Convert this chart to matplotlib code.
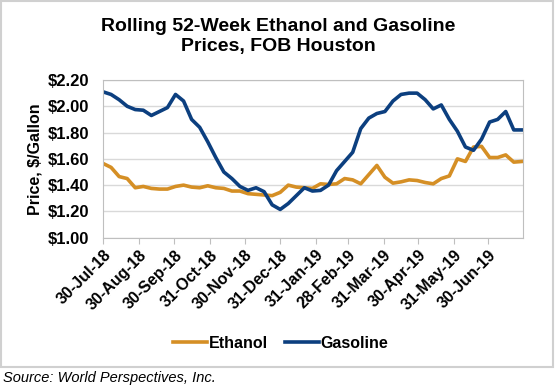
#!/usr/bin/env python3
"""Rolling 52-week ethanol and gasoline prices, FOB Houston."""
import matplotlib
matplotlib.use("Agg")
import matplotlib.pyplot as plt
import matplotlib.dates as mdates
import pandas as pd
from matplotlib.patches import Rectangle

# weekly observations starting 30-Jul-18
start_date = "2018-07-30"
n_weeks = 53
ethanol = [1.565, 1.535, 1.465, 1.45, 1.38, 1.39, 1.375, 1.37, 1.37, 1.39,
           1.40, 1.385, 1.38, 1.395, 1.38, 1.375, 1.355, 1.355, 1.335, 1.33,
           1.325, 1.32, 1.345, 1.40, 1.385, 1.38, 1.375, 1.41, 1.405, 1.41,
           1.45, 1.44, 1.41, 1.48, 1.55, 1.46, 1.415, 1.425, 1.44, 1.435,
           1.42, 1.41, 1.45, 1.47, 1.60, 1.58, 1.69, 1.695, 1.61, 1.61,
           1.63, 1.575, 1.58]
gasoline = [2.11, 2.09, 2.05, 2.00, 1.975, 1.97, 1.93, 1.96, 1.99, 2.09,
            2.04, 1.90, 1.84, 1.73, 1.61, 1.50, 1.45, 1.39, 1.36, 1.38,
            1.35, 1.25, 1.215, 1.26, 1.32, 1.38, 1.355, 1.36, 1.40, 1.51,
            1.58, 1.65, 1.83, 1.91, 1.945, 1.96, 2.04, 2.09, 2.10, 2.10,
            2.05, 1.98, 2.01, 1.90, 1.81, 1.69, 1.665, 1.75, 1.88, 1.90,
            1.96, 1.82, 1.82]
tick_dates = ["2018-07-30", "2018-08-30", "2018-09-30", "2018-10-31",
              "2018-11-30", "2018-12-31", "2019-01-31", "2019-02-28",
              "2019-03-31", "2019-04-30", "2019-05-31", "2019-06-30"]
y_ticks = [1.00, 1.20, 1.40, 1.60, 1.80, 2.00, 2.20]

ETH_COLOR = "#D58F25"
GAS_COLOR = "#0C3F7F"

plt.rcParams["font.family"] = ["Liberation Sans", "DejaVu Sans"]

dates = pd.date_range(start_date, periods=n_weeks, freq="7D")

fig = plt.figure(figsize=(5.56, 3.87), dpi=100)
ax = fig.add_axes([0.1853, 0.3858, 0.7553, 0.4075])

ax.plot(dates, ethanol, color=ETH_COLOR, lw=2.6, label="Ethanol")
ax.plot(dates, gasoline, color=GAS_COLOR, lw=2.6, label="Gasoline")

ax.set_xlim(pd.Timestamp("2018-07-30"), pd.Timestamp("2019-07-30"))
ax.set_ylim(1.0, 2.2)
ax.set_yticks(y_ticks)
ax.set_yticklabels([f"${v:.2f}" for v in y_ticks], fontsize=12, fontweight="bold")
ax.set_xticks(pd.to_datetime(tick_dates))
ax.xaxis.set_major_formatter(mdates.DateFormatter("%d-%b-%y"))
for lab in ax.get_xticklabels():
    lab.set_rotation(45)
    lab.set_ha("right")
    lab.set_rotation_mode("anchor")
    lab.set_fontsize(11.5)
    lab.set_fontweight("bold")

ax.grid(axis="y", color="#D9D9D9", lw=1)
ax.set_axisbelow(True)
for sp in ax.spines.values():
    sp.set_color("#BFBFBF")
ax.tick_params(axis="y", length=0, pad=10)
ax.tick_params(axis="x", length=4, color="#BFBFBF", pad=3)
ax.set_ylabel("Price, $/Gallon", fontsize=11.5, fontweight="bold", labelpad=4)

fig.text(0.5, 0.953, "Rolling 52-Week Ethanol and Gasoline\nPrices, FOB Houston",
         ha="center", va="top", fontsize=14, fontweight="bold", linespacing=1.2)

fig.legend(loc="center", bbox_to_anchor=(0.505, 0.113), ncol=2, frameon=False,
           prop={"size": 11.5, "weight": "bold"}, handlelength=2.1,
           handletextpad=0.1, columnspacing=1.1)

fig.patches.append(Rectangle((0.002, 0.0517), 0.993, 0.946, transform=fig.transFigure,
                             fill=False, edgecolor="#D0D0D0", lw=1.5))
fig.text(0.005, 0.023, "Source: World Perspectives, Inc.", ha="left", va="center",
         fontsize=10.5, fontstyle="italic")

fig.savefig("out.png", dpi=100)
